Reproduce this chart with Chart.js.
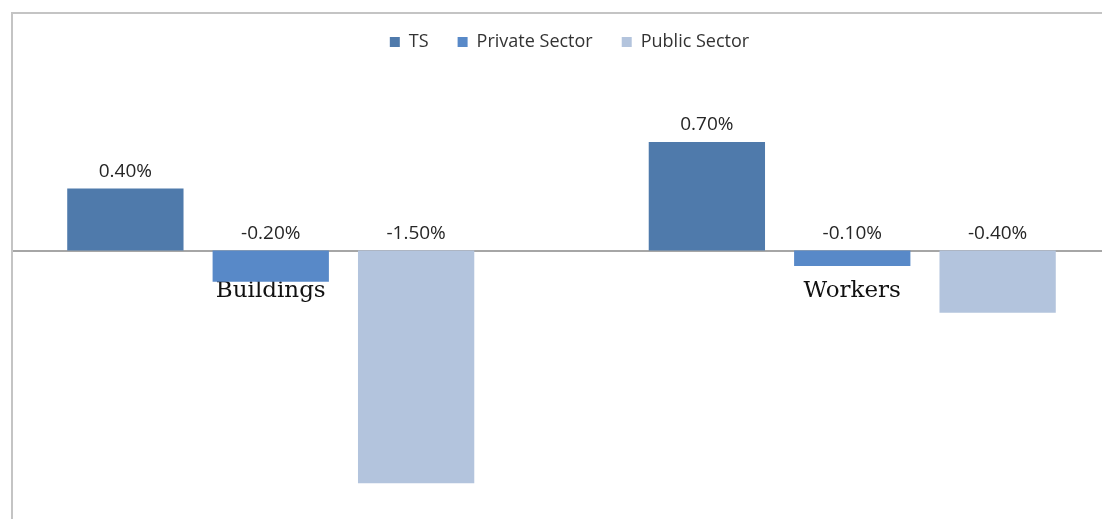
<!DOCTYPE html>
<html>
<head>
<meta charset="utf-8">
<script src="https://cdn.jsdelivr.net/npm/chart.js@4/dist/chart.umd.min.js"></script>
<style>
  html, body { margin: 0; padding: 0; background: #ffffff; overflow: hidden; }
  body { width: 1102px; height: 519px; position: relative; }
  /* grey frame: only the top and left edges are visible in the crop */
  #frame {
    position: absolute; left: 11px; top: 12px;
    width: 1200px; height: 600px;
    border-left: 2px solid #c4c4c4; border-top: 2px solid #c4c4c4;
    overflow: hidden;
  }
  #box { position: absolute; left: -33px; top: -14px; width: 1179px; height: 600px; }
</style>
</head>
<body>
<div id="frame"><div id="box"><canvas id="chart"></canvas></div></div>
<script>
// categories and series (percent)
var categories = ["Buildings", "Workers"];
var tsValues = [0.4, 0.7];
var privateValues = [-0.2, -0.1];
var publicValues = [-1.5, -0.4];
var seriesNames = ["TS", "Private Sector", "Public Sector"];
var seriesColors = ["#4f7aab", "#5889c8", "#b3c4dd"];

// writes the value labels, Excel style: above the bar end, or above the zero line for negatives
var valueLabels = {
    id: "valueLabels",
    afterDatasetsDraw: function(chart) {
        var ctx = chart.ctx;
        ctx.save();
        ctx.font = "19px 'Open Sans'";
        ctx.fillStyle = "#262626";
        ctx.textAlign = "center";
        ctx.textBaseline = "alphabetic";
        chart.data.datasets.forEach(function(ds, i) {
            var meta = chart.getDatasetMeta(i);
            meta.data.forEach(function(bar, j) {
                var v = ds.data[j];
                var y = Math.min(bar.y, bar.base) - 12;
                ctx.fillText(v.toFixed(2) + "%", bar.x, y);
            });
        });
        ctx.restore();
    }
};

var datasets = [tsValues, privateValues, publicValues].map(function(vals, i) {
    return {
        label: seriesNames[i],
        data: vals,
        backgroundColor: seriesColors[i],
        borderWidth: 0,
        categoryPercentage: 0.75,
        barPercentage: 0.8
    };
});

new Chart(document.getElementById("chart"), {
    type: "bar",
    data: { labels: categories, datasets: datasets },
    options: {
        responsive: true,
        maintainAspectRatio: false,
        animation: false,
        layout: { padding: { top: 4, left: 0, right: 0, bottom: 0 } },
        plugins: {
            legend: {
                position: "top",
                labels: {
                    boxWidth: 10,
                    boxHeight: 10,
                    padding: 29,
                    color: "#333333",
                    font: { family: "'Open Sans'", size: 18 }
                }
            },
            tooltip: { enabled: false }
        },
        scales: {
            x: {
                position: { y: 0 },
                z: 1,
                grid: { display: false, drawTicks: false },
                border: { display: true, color: "#a6a6a6", width: 2 },
                ticks: {
                    padding: 27,
                    color: "#111111",
                    font: { family: "'DejaVu Serif'", size: 23 }
                }
            },
            y: {
                position: "right",
                min: -2.252,
                max: 1.222,
                grid: { display: false },
                border: { display: false },
                ticks: { display: false },
                afterFit: function(scale) { scale.width = 16; }
            }
        }
    },
    plugins: [valueLabels]
});
</script>
</body>
</html>
